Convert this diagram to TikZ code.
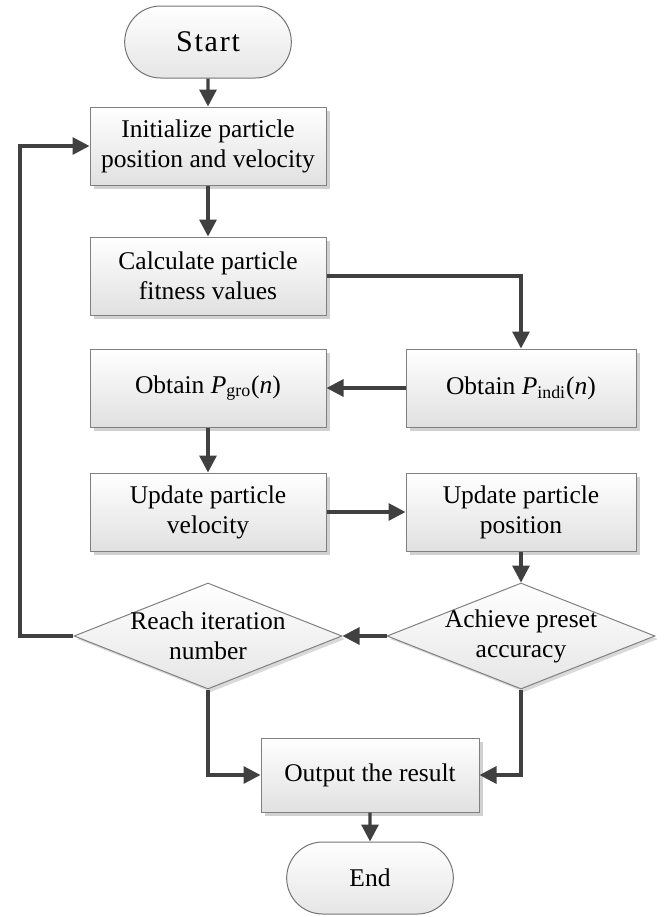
\documentclass[tikz,border=0pt]{standalone}
\usepackage{fontspec}
\setmainfont{Liberation Serif}
\usepackage{tikz}
\usetikzlibrary{positioning,shapes.geometric,shapes.misc,shadows,arrows.meta}

\begin{document}
\begin{tikzpicture}[->,>={Triangle[length=8.5pt,width=8.5pt]},node distance=62pt,
         font=\fontsize{12.75}{15}\selectfont,
         flow/.style={draw=black!75,line width=1.6pt},
         process node/.style={rectangle,draw=black!50,line width=0.5pt,top color=white,bottom color=black!12,
           drop shadow={shadow xshift=2pt,shadow yshift=-2pt,fill=black!18,opacity=1},
           minimum width=118pt,minimum height=39pt,inner sep=2pt,align=center},
         decision node/.style={diamond,aspect=2.5,draw=black!50,line width=0.5pt,top color=white,bottom color=black!10,
           drop shadow={shadow xshift=1.5pt,shadow yshift=-1.5pt,fill=black!15,opacity=1},
           minimum width=134pt,minimum height=53pt,inner sep=-4pt,align=center},
         end node/.style={rounded rectangle,draw=black!55,line width=0.5pt,top color=white,bottom color=black!10,
           minimum width=90pt,minimum height=36pt}]

     \useasboundingbox (0,0) rectangle (335.5pt,-458.5pt);

     \node[end node,font=\fontsize{15}{18}\selectfont\addfontfeature{LetterSpace=6}] (start) at (104pt,-21pt) {Start};
     \node[process node] (init) [below of=start,node distance=52pt] {Initialize particle\\position and velocity};
     \node[process node] (calc) [below of=init,node distance=65pt] {Calculate particle\\fitness values};
     \node[process node] (pgro) [below of=calc,node distance=56pt] {Obtain \textit{P}\textsubscript{gro}(\textit{n})};
     \node[process node,minimum width=115pt] (pindi) [right of=pgro,node distance=156.5pt] {Obtain \textit{P}\textsubscript{indi}(\textit{n})};
     \node[process node] (updvel) [below of=pgro] {Update particle\\velocity};
     \node[process node,minimum width=115pt] (updpos) [below of=pindi] {Update particle\\position};
     \node[decision node] (reach) [below of=updvel] {Reach iteration\\number};
     \node[decision node] (achieve) [below of=updpos] {Achieve preset\\accuracy};
     \node[process node,minimum width=109pt,minimum height=37pt] (out) at (185pt,-387.5pt) {Output the result};
     \node[end node] (end) [below of=out,node distance=51.5pt] {End};
     \coordinate (loop) at (10pt,-318pt);

     \draw[flow] (start) -- (init);
     \draw[flow] (init) -- (calc);
     \draw[flow] (calc) -| (pindi);
     \draw[flow] (pindi) -- (pgro);
     \draw[flow] (pgro) -- (updvel);
     \draw[flow] (updvel) -- (updpos);
     \draw[flow] (updpos) -- (achieve);
     \draw[flow] (achieve) -- (reach);
     \draw[flow] (reach) -- (loop) |- (init);
     \draw[flow] (reach) |- (out);
     \draw[flow] (achieve) |- (out);
     \draw[flow] (out) -- (end);
 \end{tikzpicture}
\end{document}
